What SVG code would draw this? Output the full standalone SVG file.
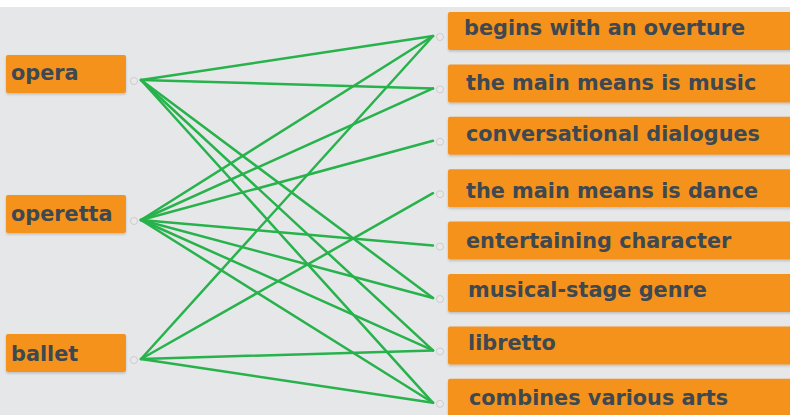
<svg xmlns="http://www.w3.org/2000/svg" width="790" height="415" viewBox="0 0 790 415">
<style>
.box{fill:#f5921f;filter:url(#sh)}
.lbl{font-family:"DejaVu Sans",Verdana,sans-serif;font-weight:bold;font-size:20.8px;fill:#3d4850}
.dot{fill:#e9e9ea;stroke:#c4c4c8;stroke-width:0.8}
.ln{stroke:#27b24b;stroke-width:2.5;fill:none;stroke-linecap:round}
</style>
<defs>
<filter id="sh" x="-5%" y="-20%" width="110%" height="150%">
<feDropShadow dx="0" dy="1.5" stdDeviation="1.2" flood-color="#000" flood-opacity="0.18"/>
</filter>
</defs>
<rect x="0" y="0" width="790" height="415" fill="#e6e7e9"/>
<rect x="0" y="0" width="790" height="7" fill="#ffffff"/>

<g id="connectors">
<line class="ln" x1="141" y1="80" x2="433" y2="36"/>
<line class="ln" x1="141" y1="80" x2="433" y2="88.4"/>
<line class="ln" x1="141" y1="80" x2="433" y2="298"/>
<line class="ln" x1="141" y1="80" x2="433" y2="350.4"/>
<line class="ln" x1="141" y1="80" x2="433" y2="402.8"/>
<line class="ln" x1="141" y1="220" x2="433" y2="36"/>
<line class="ln" x1="141" y1="220" x2="433" y2="88.4"/>
<line class="ln" x1="141" y1="220" x2="433" y2="140.8"/>
<line class="ln" x1="141" y1="220" x2="433" y2="245.6"/>
<line class="ln" x1="141" y1="220" x2="433" y2="298"/>
<line class="ln" x1="141" y1="220" x2="433" y2="350.4"/>
<line class="ln" x1="141" y1="220" x2="433" y2="402.8"/>
<line class="ln" x1="141" y1="359" x2="433" y2="36"/>
<line class="ln" x1="141" y1="359" x2="433" y2="193.2"/>
<line class="ln" x1="141" y1="359" x2="433" y2="350.4"/>
<line class="ln" x1="141" y1="359" x2="433" y2="402.8"/>
</g>

<g id="opera"><rect class="box" x="6" y="55" width="120" height="38" rx="2"/><text class="lbl" x="11" y="80">opera</text><circle class="dot" cx="134" cy="81" r="3.5"/></g>
<g id="operetta"><rect class="box" x="6" y="195" width="120" height="38" rx="2"/><text class="lbl" x="11" y="221">operetta</text><circle class="dot" cx="134" cy="221" r="3.5"/></g>
<g id="ballet"><rect class="box" x="6" y="334" width="120" height="38" rx="2"/><text class="lbl" x="11" y="361">ballet</text><circle class="dot" cx="134" cy="360" r="3.5"/></g>

<g id="begins"><rect class="box" x="448" y="12" width="350" height="38" rx="2"/><text class="lbl" x="464" y="35">begins with an overture</text><circle class="dot" cx="440" cy="37" r="3.5"/></g>
<g id="music"><rect class="box" x="448" y="64.4" width="350" height="38" rx="2"/><text class="lbl" x="466" y="90">the main means is music</text><circle class="dot" cx="440" cy="89.4" r="3.5"/></g>
<g id="dialogues"><rect class="box" x="448" y="116.8" width="350" height="38" rx="2"/><text class="lbl" x="466" y="141">conversational dialogues</text><circle class="dot" cx="440" cy="141.8" r="3.5"/></g>
<g id="dance"><rect class="box" x="448" y="169.2" width="350" height="38" rx="2"/><text class="lbl" x="466" y="198">the main means is dance</text><circle class="dot" cx="440" cy="194.2" r="3.5"/></g>
<g id="entertaining"><rect class="box" x="448" y="221.6" width="350" height="38" rx="2"/><text class="lbl" x="466" y="248">entertaining character</text><circle class="dot" cx="440" cy="246.6" r="3.5"/></g>
<g id="genre"><rect class="box" x="448" y="274" width="350" height="38" rx="2"/><text class="lbl" x="468" y="297">musical-stage genre</text><circle class="dot" cx="440" cy="299" r="3.5"/></g>
<g id="libretto"><rect class="box" x="448" y="326.4" width="350" height="38" rx="2"/><text class="lbl" x="468" y="350">libretto</text><circle class="dot" cx="440" cy="351.4" r="3.5"/></g>
<g id="arts"><rect class="box" x="448" y="378.8" width="350" height="38" rx="2"/><text class="lbl" x="469" y="405">combines various arts</text><circle class="dot" cx="440" cy="403.8" r="3.5"/></g>
</svg>
